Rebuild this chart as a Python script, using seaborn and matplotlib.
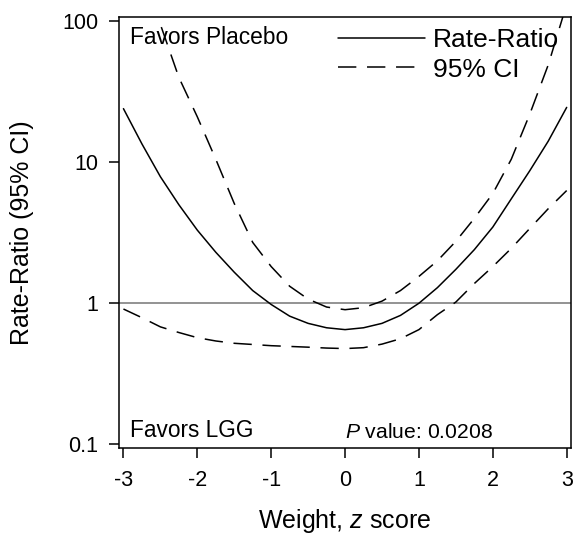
import matplotlib
matplotlib.use("Agg")
import matplotlib.pyplot as plt
import seaborn as sns
import pandas as pd

# weight z score grid (every 0.25)
weight_z = [-3.0, -2.75, -2.5, -2.25, -2.0, -1.75, -1.5, -1.25, -1.0, -0.75, -0.5, -0.25,
            0.0, 0.25, 0.5, 0.75, 1.0, 1.25, 1.5, 1.75, 2.0, 2.25, 2.5, 2.75, 3.0]

# estimated rate-ratio and 95% CI
rate_ratio = [24.0, 13.5, 7.9, 5.0, 3.3, 2.3, 1.66, 1.23, 0.98, 0.81, 0.72, 0.67,
              0.65, 0.67, 0.72, 0.82, 1.0, 1.29, 1.74, 2.4, 3.47, 5.5, 8.7, 14.1, 24.5]
ci_lower = [0.91, 0.79, 0.68, 0.62, 0.57, 0.54, 0.52, 0.51, 0.50, 0.494, 0.488, 0.481,
            0.477, 0.484, 0.513, 0.56, 0.65, 0.83, 1.02, 1.38, 1.82, 2.45, 3.39, 4.68, 6.3]
ci_upper = [1260, 316, 95, 40, 21, 10.5, 5.1, 2.7, 1.82, 1.32, 1.07, 0.94,
            0.90, 0.93, 1.035, 1.23, 1.55, 2.0, 2.75, 4.0, 6.0, 10.5, 21.9, 49, 132]

y_ticks = [0.1, 1, 10, 100]
y_ticklabels = ["0.1", "1", "10", "100"]
x_ticks = [-3, -2, -1, 0, 1, 2, 3]

df = pd.DataFrame({"z": weight_z, "rr": rate_ratio, "lo": ci_lower, "hi": ci_upper})

sns.set_style("ticks")
plt.rcParams["font.family"] = ["Liberation Sans", "DejaVu Sans"]
plt.rcParams["mathtext.fontset"] = "custom"
plt.rcParams["mathtext.rm"] = "Liberation Sans"
plt.rcParams["mathtext.it"] = "Liberation Sans:italic"
plt.rcParams["text.color"] = "black"
plt.rcParams["axes.labelcolor"] = "black"

fig = plt.figure(figsize=(5.73, 5.34), dpi=100)
ax = fig.add_axes([0.2077, 0.161, 0.789, 0.808])

ax.axhline(1, color="#808080", lw=1.2, zorder=1)

dash = (0, (12, 7))
sns.lineplot(data=df, x="z", y="rr", color="black", lw=1.1, ax=ax, label="Rate-Ratio")
sns.lineplot(data=df, x="z", y="lo", color="black", lw=1.1, linestyle=dash, ax=ax, label="95% CI")
sns.lineplot(data=df, x="z", y="hi", color="black", lw=1.1, linestyle=dash, ax=ax)

ax.set_yscale("log")
ax.set_ylim(0.094, 108)
ax.set_xlim(-3.06, 3.06)
ax.set_yticks(y_ticks)
ax.set_yticklabels(y_ticklabels)
ax.minorticks_off()
ax.set_xticks(x_ticks)
ax.set_xticklabels([str(t) for t in x_ticks])
ax.tick_params(axis="both", labelsize=15.5, length=7, width=1.1, color="black",
               labelcolor="black", direction="out")
ax.tick_params(axis="y", pad=8)
ax.tick_params(axis="x", pad=9)

for s in ax.spines.values():
    s.set_visible(True)
    s.set_linewidth(1.1)
    s.set_color("black")

ax.set_xlabel("Weight, $\\it{z}$ score", fontsize=18, labelpad=11)
ax.set_ylabel("Rate-Ratio (95% CI)", fontsize=18, labelpad=20)

ax.text(0.024, 0.978, "Favors Placebo", transform=ax.transAxes, fontsize=16.4,
        ha="left", va="top")
ax.text(0.024, 0.014, "Favors LGG", transform=ax.transAxes, fontsize=16.3,
        ha="left", va="bottom")
ax.text(0.5, 0.014, "$\\it{P}$ value: 0.0208", transform=ax.transAxes, fontsize=15.2,
        ha="left", va="bottom")

ax.legend(loc="upper right", frameon=False, fontsize=19, handlelength=3.3,
          handletextpad=0.3, labelspacing=0.2, borderaxespad=0.05,
          bbox_to_anchor=(1.0, 1.0))

fig.savefig("out.png", dpi=100)
